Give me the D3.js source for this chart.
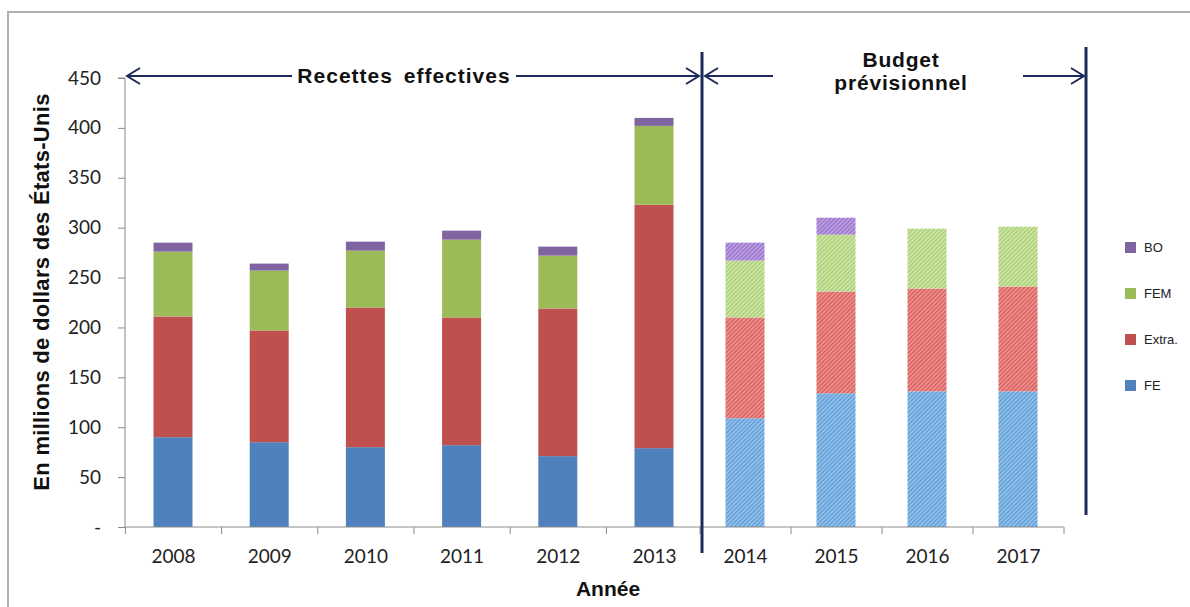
<!DOCTYPE html>
<html><head><meta charset="utf-8">
<script src="https://cdn.jsdelivr.net/npm/d3@7"></script>
<style>body{margin:0;background:#fff}svg{display:block}</style>
</head><body>
<svg id="c" width="1190" height="607"></svg>
<script>
const years = ["2008","2009","2010","2011","2012","2013","2014","2015","2016","2017"];
const FE    = [90, 85, 80, 82, 71, 79, 109, 134, 136, 136];
const Extra = [121,112,140,128,148,244,101,102,103,105];
const FEM   = [65, 60, 57, 78, 53, 79, 57, 57, 60, 60];
const BO    = [9, 7, 9, 9, 9, 8, 18, 17, 0, 0];
const forecastFrom = "2014";
const seriesKeys = ["FE","Extra","FEM","BO"];
const legendLabels = {BO:"BO", FEM:"FEM", Extra:"Extra.", FE:"FE"};
const yTicks = [0,50,100,150,200,250,300,350,400,450];

const solid = {FE:"#4f81bd", Extra:"#c0504d", FEM:"#9bbb59", BO:"#8064a2"};
const hatchBase = {FE:"#9ec8ef", Extra:"#f09d9b", FEM:"#d4eab0", BO:"#c4a9e6"};
const hatchLine = {FE:"#5a9ad6", Extra:"#d65956", FEM:"#a8cc72", BO:"#9570c8"};
const navy = "#1c2b59";
const ff = "Liberation Sans, Arial, sans-serif";

const rows = years.map((y,i)=>({i, year:y, FE:FE[i], Extra:Extra[i], FEM:FEM[i], BO:BO[i]}));
const stacked = d3.stack().keys(seriesKeys)(rows);

const svg = d3.select("#c");
const defs = svg.append("defs");
seriesKeys.forEach(k=>{
  const p = defs.append("pattern").attr("id","h"+k).attr("patternUnits","userSpaceOnUse")
    .attr("width",3).attr("height",3).attr("patternTransform","rotate(45)");
  p.append("rect").attr("width",3).attr("height",3).attr("fill",hatchBase[k]);
  p.append("rect").attr("width",1.5).attr("height",3).attr("fill",hatchLine[k]);
});

// frame
svg.append("path").attr("d","M8,607 L8,12 L1190,12").attr("fill","none").attr("stroke","#b0b0b0").attr("stroke-width",2);

// category position scale (index -> centre), piecewise to follow the picture's spacing
const x = d3.scaleLinear().domain([0,5,9]).range([173,654,1018]);
const bw = 39;
const y = d3.scaleLinear().domain([0,450]).range([527,78]);

// bars
const isF = yr => years.indexOf(yr) >= years.indexOf(forecastFrom);
stacked.forEach(s=>{
  svg.append("g").selectAll("rect").data(s.filter(d=>d[1]-d[0]>0)).join("rect")
    .attr("x",d=>x(d.data.i)-bw/2).attr("width",bw)
    .attr("y",d=>y(d[1])).attr("height",d=>y(d[0])-y(d[1]))
    .attr("fill",d=>isF(d.data.year)?`url(#h${s.key})`:solid[s.key]);
});

// y axis
const yAxis = svg.append("g").attr("transform","translate(125,0)")
  .call(d3.axisLeft(y).tickValues(yTicks).tickSize(7).tickPadding(17).tickFormat(v=>v===0?"-":v));
yAxis.select(".domain").attr("stroke","#8a8a8a").attr("d","M-7,78H0V527");
yAxis.selectAll(".tick line").attr("stroke","#8a8a8a");
yAxis.selectAll("text").attr("font-family","Lato, sans-serif").attr("font-size",19).attr("fill","#222");

// x axis
const xAxis = svg.append("g").attr("transform","translate(0,527)")
  .call(d3.axisBottom(x).tickValues(d3.range(years.length)).tickSize(0).tickPadding(23).tickFormat(i=>years[i]));
xAxis.select(".domain").attr("stroke","#8a8a8a").attr("d",`M${x(-0.5)},0H${x(years.length-0.5)}`);
xAxis.selectAll("text").attr("font-family","Lato, sans-serif").attr("font-size",19).attr("fill","#222");
const xTicks = svg.append("g").attr("transform","translate(0,527)")
  .call(d3.axisBottom(x).tickValues(d3.range(-0.5, years.length, 1)).tickSize(7).tickFormat(""));
xTicks.select(".domain").remove();
xTicks.selectAll(".tick line").attr("stroke","#8a8a8a");

// titles
svg.append("text").attr("transform","translate(49,292) rotate(-90)").attr("text-anchor","middle")
  .attr("font-family",ff).attr("font-weight","bold").attr("font-size",22).attr("letter-spacing",0.3)
  .attr("fill","#111").text("En millions de dollars des États-Unis");
svg.append("text").attr("x",608).attr("y",596).attr("text-anchor","middle")
  .attr("font-family",ff).attr("font-weight","bold").attr("font-size",21)
  .attr("fill","#111").text("Année");

// separators
svg.append("line").attr("x1",702).attr("x2",702).attr("y1",52).attr("y2",553).attr("stroke",navy).attr("stroke-width",3);
svg.append("line").attr("x1",1086).attr("x2",1086).attr("y1",47).attr("y2",515).attr("stroke",navy).attr("stroke-width",3);

// arrows
const ay = 76;
function arrow(x1,x2,dir){
  svg.append("line").attr("x1",x1).attr("x2",x2).attr("y1",ay).attr("y2",ay).attr("stroke",navy).attr("stroke-width",2);
  const hx = dir<0?x1:x2, s = dir<0?1:-1;
  svg.append("path").attr("d",`M${hx+s*13},${ay-8}L${hx},${ay}L${hx+s*13},${ay+8}`)
    .attr("fill","none").attr("stroke",navy).attr("stroke-width",2);
}
arrow(127,292,-1);
arrow(516,699,1);
arrow(705,773,-1);
arrow(1023,1084,1);
svg.append("text").attr("x",404).attr("y",83).attr("text-anchor","middle")
  .attr("font-family",ff).attr("font-weight","bold").attr("font-size",21)
  .attr("letter-spacing",1).attr("word-spacing",4).attr("fill","#111").text("Recettes effectives");
svg.append("text").attr("x",901).attr("y",67).attr("text-anchor","middle")
  .attr("font-family",ff).attr("font-weight","bold").attr("font-size",21).attr("letter-spacing",0.8)
  .attr("fill","#111").text("Budget");
svg.append("text").attr("x",901).attr("y",90).attr("text-anchor","middle")
  .attr("font-family",ff).attr("font-weight","bold").attr("font-size",21).attr("letter-spacing",0.8)
  .attr("fill","#111").text("prévisionnel");

// legend
const legOrder = ["BO","FEM","Extra","FE"];
const lg = svg.append("g").selectAll("g").data(legOrder).join("g")
  .attr("transform",(d,i)=>`translate(1125,${242+i*46})`);
lg.append("rect").attr("width",11).attr("height",11).attr("fill",d=>solid[d]);
lg.append("text").attr("x",19).attr("y",10).attr("font-family",ff)
  .attr("font-size",13).attr("fill","#222").text(d=>legendLabels[d]);
</script>
</body></html>
